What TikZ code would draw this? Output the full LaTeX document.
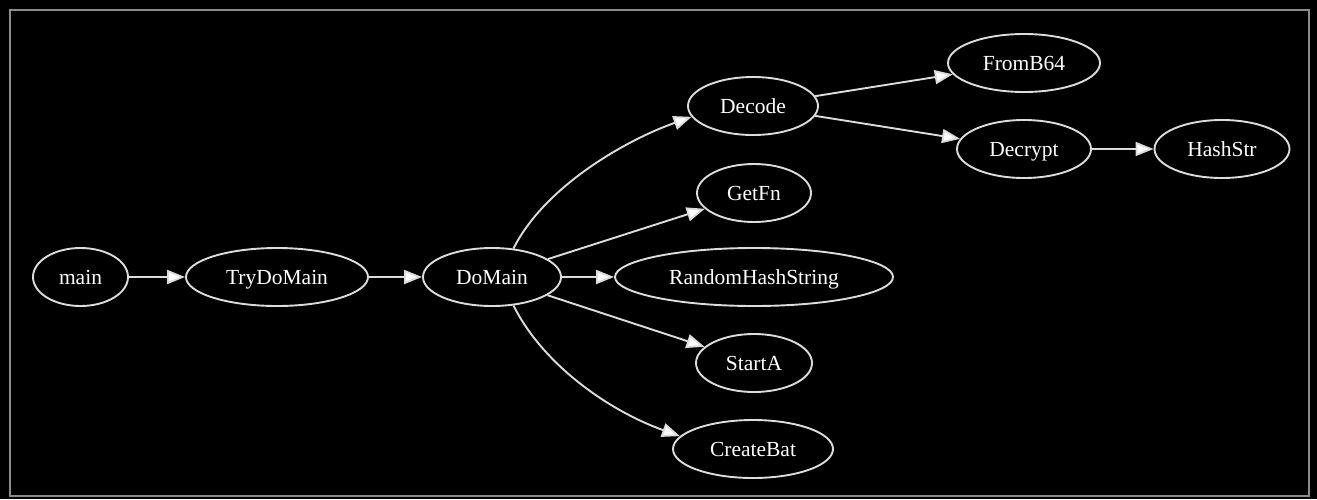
\documentclass[tikz,border=0pt]{standalone}
\usepackage{fontspec}
\setmainfont{Liberation Serif}
\usetikzlibrary{shapes.geometric,arrows.meta}
\definecolor{edgecol}{HTML}{DCDCDC}
\definecolor{framecol}{HTML}{8C8C8C}
\tikzset{
  fn/.style={ellipse, draw=edgecol, line width=1.9pt, inner sep=0pt,
    minimum height=58pt, text=white, text height=18pt, text depth=3pt,
    font=\fontsize{21.5}{25}\selectfont},
  edge/.style={draw=edgecol, line width=1.9pt,
    -{Triangle[length=18pt,width=14pt,fill=white]}},
}
\begin{document}
\begin{tikzpicture}[x=1pt,y=-1pt]
\fill[black] (0,0) rectangle (1317,499);
\useasboundingbox (0,0) rectangle (1317,499);
\draw[framecol, line width=2pt] (9.5,9.5) rectangle (1308.5,495.5);

\node[fn, minimum width=95pt]  (main) at (80.5,277) {main};
\node[fn, minimum width=182pt] (try)  at (277,277) {TryDoMain};
\node[fn, minimum width=138pt] (dm)   at (492,277) {DoMain};
\node[fn, minimum width=130pt] (dec)  at (753,106) {Decode};
\node[fn, minimum width=114pt] (get)  at (754,193) {GetFn};
\node[fn, minimum width=278pt] (rhs)  at (754,277) {RandomHashString};
\node[fn, minimum width=116pt] (sta)  at (754,363) {StartA};
\node[fn, minimum width=160pt] (cb)   at (753,449) {CreateBat};
\node[fn, minimum width=152pt] (b64)  at (1024,63) {FromB64};
\node[fn, minimum width=134pt] (dcr)  at (1024,149) {Decrypt};
\node[fn, minimum width=135pt] (hs)   at (1222,149) {HashStr};

\draw[edge] (main) -- (try);
\draw[edge] (try) -- (dm);
\draw[edge] (dm.53) .. controls +(30,-60) and +(-70,25) .. (dec.190);
\draw[edge] (dm) -- (get);
\draw[edge] (dm) -- (rhs);
\draw[edge] (dm) -- (sta);
\draw[edge] (dm.-53) .. controls +(30,60) and +(-70,-25) .. (cb.170);
\draw[edge] (dec) -- (b64);
\draw[edge] (dec) -- (dcr);
\draw[edge] (dcr) -- (hs);
\end{tikzpicture}
\end{document}
